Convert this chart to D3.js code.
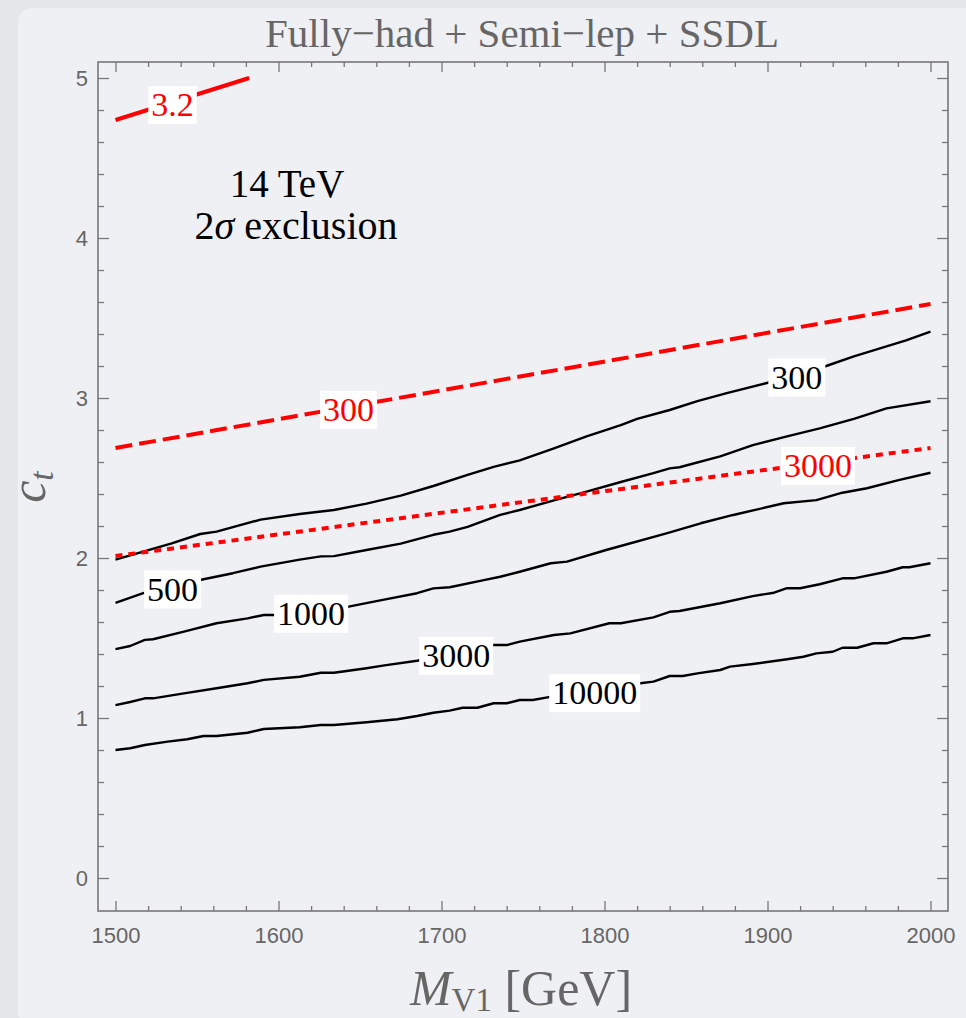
<!DOCTYPE html>
<html>
<head>
<meta charset="utf-8">
<script src="https://cdn.jsdelivr.net/npm/d3@7"></script>
<style>
  html, body { margin: 0; padding: 0; background: #e5e6e9; }
  svg { display: block; }
</style>
</head>
<body>
<svg id="chart" width="966" height="1018"></svg>
<script>
// Contours of required luminosity (fb^-1) in the (M_V1, c_t) plane, 14 TeV, 2 sigma exclusion.
// Each contour is a list of [M_V1 in GeV, c_t] points.

const lum300 = [[1500,1.99],[1517,2.04],[1534,2.09],[1552,2.15],[1562,2.165],[1589,2.24],[1613,2.275],
  [1634,2.30],[1654,2.34],[1675,2.39],[1695,2.45],[1716,2.52],[1732,2.57],[1748,2.61],[1769,2.685],
  [1789,2.76],[1810,2.83],[1820,2.87],[1840,2.925],[1857,2.98],[1875,3.03],[1902,3.10],[1936,3.20],
  [1953,3.26],[1969,3.31],[1985,3.36],[2000,3.415]];

const lum500 = [[1500,1.72],[1517,1.78],[1554,1.867],[1572,1.905],[1589,1.946],[1613,1.99],[1626,2.01],
  [1634,2.012],[1654,2.05],[1675,2.09],[1695,2.145],[1705,2.165],[1716,2.195],[1736,2.27],[1748,2.30],
  [1769,2.36],[1789,2.415],[1810,2.475],[1830,2.53],[1840,2.56],[1846,2.567],[1871,2.635],[1891,2.705],
  [1912,2.76],[1932,2.81],[1953,2.87],[1973,2.935],[2000,2.98]];

const lum1000 = [[1500,1.43],[1509,1.45],[1518,1.488],[1523,1.492],[1542,1.54],[1562,1.592],[1581,1.623],
  [1591,1.644],[1597,1.644],[1643,1.696],[1664,1.738],[1685,1.78],[1695,1.81],[1705,1.817],[1726,1.862],
  [1736,1.883],[1748,1.914],[1767,1.967],[1777,1.977],[1801,2.05],[1838,2.154],[1859,2.217],[1879,2.269],
  [1910,2.342],[1930,2.362],[1946,2.408],[1961,2.436],[1981,2.488],[2000,2.533]];

const lum3000 = [[1500,1.08],[1509,1.10],[1518,1.123],[1523,1.123],[1542,1.154],[1562,1.186],[1581,1.217],
  [1591,1.238],[1613,1.258],[1626,1.283],[1634,1.283],[1654,1.311],[1664,1.327],[1685,1.358],[1732,1.456],
  [1740,1.456],[1748,1.477],[1769,1.519],[1779,1.529],[1803,1.592],[1810,1.592],[1830,1.629],[1840,1.664],
  [1846,1.669],[1871,1.717],[1891,1.762],[1904,1.783],[1912,1.811],[1920,1.811],[1932,1.836],[1946,1.873],
  [1953,1.873],[1973,1.914],[1983,1.942],[1987,1.942],[2000,1.967]];

const lum10000 = [[1500,0.80],[1509,0.811],[1518,0.831],[1532,0.852],[1544,0.867],[1554,0.8875],[1562,0.8875],
  [1581,0.908],[1591,0.931],[1613,0.942],[1626,0.956],[1634,0.956],[1654,0.973],[1673,0.992],[1685,1.0125],
  [1695,1.033],[1705,1.046],[1713,1.064],[1722,1.064],[1732,1.092],[1740,1.092],[1748,1.1125],[1756,1.1125],
  [1765,1.129],[1822,1.217],[1830,1.227],[1840,1.2625],[1848,1.2625],[1857,1.279],[1871,1.30],[1877,1.321],
  [1891,1.3375],[1912,1.367],[1922,1.383],[1930,1.404],[1940,1.414],[1946,1.439],[1955,1.439],[1965,1.467],
  [1973,1.467],[1983,1.498],[1989,1.498],[2000,1.519]];

// Red reference lines: 3.2 fb^-1 (solid), 300 fb^-1 (dashed), 3000 fb^-1 (dotted)
const red32 = [[1500,4.7375],[1582,5.0]];
const red300 = [[1500,2.6875],[2000,3.5875]];
const red3000 = [[1500,2.0125],[2000,2.6875]];

// Contour label texts and the mass at which each sits on its line
const blackLabels = ["300", "500", "1000", "3000", "10000"];
const blackLabelMass = [1918, 1535, 1620, 1709, 1794];
const redLabels = ["3.2", "300", "3000"];
const redLabelMass = [1535, 1643, 1931];

// Axis ticks
const xMajor = [1500, 1600, 1700, 1800, 1900, 2000];
const xMinor = d3.range(1500, 2001, 20).filter(v => !xMajor.includes(v));
const yMajor = [0, 1, 2, 3, 4, 5];
const yMinor = d3.range(-0.2, 5.01, 0.2).map(v => +v.toFixed(1)).filter(v => !yMajor.includes(v) && v > -0.15);

const W = 966, H = 1018;
const frame = {left: 98, right: 948, top: 62, bottom: 911};

const svg = d3.select("#chart");
const serif = "'Liberation Serif', 'Times New Roman', serif";
const sans = "'Liberation Sans', Arial, sans-serif";

// panel background
svg.append("rect").attr("x", 18).attr("y", 8).attr("width", W).attr("height", H)
  .attr("rx", 14).attr("fill", "#eff0f3");

const x = d3.scaleLinear().domain([1500, 2000]).range([115.5, 930.5]);
const y = d3.scaleLinear().domain([0, 5]).range([878, 78]);

// clip region for the curves
svg.append("defs").append("clipPath").attr("id", "plotClip")
  .append("rect").attr("x", frame.left).attr("y", frame.top)
  .attr("width", frame.right - frame.left).attr("height", frame.bottom - frame.top);

const tickColor = "#777";
function styleAxis(g) {
  g.select(".domain").remove();
  g.selectAll(".tick line").attr("stroke", tickColor).attr("stroke-width", 1.3);
  g.selectAll(".tick text").attr("fill", "#666").attr("font-family", sans).attr("font-size", 22);
}

// bottom axis with labels
svg.append("g").attr("transform", `translate(0,${frame.bottom})`)
  .call(d3.axisBottom(x).tickValues(xMajor).tickSizeInner(-10).tickSizeOuter(0).tickPadding(16).tickFormat(d3.format("d")))
  .call(styleAxis);
svg.append("g").attr("transform", `translate(0,${frame.bottom})`)
  .call(d3.axisBottom(x).tickValues(xMinor).tickSizeInner(-5).tickSizeOuter(0).tickFormat(""))
  .call(styleAxis);
// top axis
svg.append("g").attr("transform", `translate(0,${frame.top})`)
  .call(d3.axisTop(x).tickValues(xMajor).tickSizeInner(-10).tickSizeOuter(0).tickFormat(""))
  .call(styleAxis);
svg.append("g").attr("transform", `translate(0,${frame.top})`)
  .call(d3.axisTop(x).tickValues(xMinor).tickSizeInner(-5).tickSizeOuter(0).tickFormat(""))
  .call(styleAxis);
// left axis with labels
svg.append("g").attr("transform", `translate(${frame.left},0)`)
  .call(d3.axisLeft(y).tickValues(yMajor).tickSizeInner(-11).tickSizeOuter(0).tickPadding(10).tickFormat(d3.format("d")))
  .call(styleAxis);
svg.append("g").attr("transform", `translate(${frame.left},0)`)
  .call(d3.axisLeft(y).tickValues(yMinor).tickSizeInner(-6).tickSizeOuter(0).tickFormat(""))
  .call(styleAxis);
// right axis
svg.append("g").attr("transform", `translate(${frame.right},0)`)
  .call(d3.axisRight(y).tickValues(yMajor).tickSizeInner(-11).tickSizeOuter(0).tickFormat(""))
  .call(styleAxis);
svg.append("g").attr("transform", `translate(${frame.right},0)`)
  .call(d3.axisRight(y).tickValues(yMinor).tickSizeInner(-6).tickSizeOuter(0).tickFormat(""))
  .call(styleAxis);

// frame
svg.append("rect").attr("x", frame.left).attr("y", frame.top)
  .attr("width", frame.right - frame.left).attr("height", frame.bottom - frame.top)
  .attr("fill", "none").attr("stroke", tickColor).attr("stroke-width", 1.6);

const line = d3.line().x(d => x(d[0])).y(d => y(d[1]));
const plot = svg.append("g").attr("clip-path", "url(#plotClip)");

const blackSeries = [lum300, lum500, lum1000, lum3000, lum10000];
blackSeries.forEach(s => {
  plot.append("path").datum(s).attr("d", line)
    .attr("fill", "none").attr("stroke", "#000").attr("stroke-width", 2.4)
    .attr("stroke-linejoin", "round");
});

const redSeries = [red32, red300, red3000];
const redDash = [null, "17,7", "7,6"];
redSeries.forEach((s, i) => {
  const p = plot.append("path").datum(s).attr("d", line)
    .attr("fill", "none").attr("stroke", "#ff0000").attr("stroke-width", 4);
  if (redDash[i]) p.attr("stroke-dasharray", redDash[i]);
});

// value of a polyline at a given mass
function valueAt(s, m) {
  for (let i = 0; i < s.length - 1; i++) {
    const a = s[i], b = s[i + 1];
    if (m >= a[0] && m <= b[0]) return a[1] + (b[1] - a[1]) * (m - a[0]) / (b[0] - a[0]);
  }
  return s[s.length - 1][1];
}

function contourLabel(s, m, text, color) {
  const cx = x(m), cy = y(valueAt(s, m)) + 3;
  const g = svg.append("g");
  const box = g.append("rect").attr("fill", "#fff");
  const t = g.append("text").attr("x", cx).attr("y", cy).attr("dy", "0.33em")
    .attr("text-anchor", "middle").attr("font-family", serif).attr("font-size", 34)
    .attr("fill", color).text(text);
  const bb = t.node().getBBox();
  box.attr("x", bb.x - 3).attr("y", cy - 19).attr("width", bb.width + 6).attr("height", 38);
}

blackSeries.forEach((s, i) => contourLabel(s, blackLabelMass[i], blackLabels[i], "#000"));
redSeries.forEach((s, i) => contourLabel(s, redLabelMass[i], redLabels[i], "#ff0000"));

// annotation
svg.append("text").attr("x", 287).attr("y", 197).attr("text-anchor", "middle")
  .attr("font-family", serif).attr("font-size", 39).attr("fill", "#000").text("14 TeV");
const ann = svg.append("text").attr("x", 296).attr("y", 239).attr("text-anchor", "middle")
  .attr("font-family", serif).attr("font-size", 40).attr("fill", "#000");
ann.append("tspan").text("2");
ann.append("tspan").attr("font-style", "italic").text("σ");
ann.append("tspan").text(" exclusion");

// title
svg.append("text").attr("x", 522).attr("y", 47).attr("text-anchor", "middle")
  .attr("font-family", serif).attr("font-size", 41).attr("fill", "#666")
  .text("Fully\u2212had + Semi\u2212lep + SSDL");

// x axis title
const xt = svg.append("text").attr("x", 521).attr("y", 1005).attr("text-anchor", "middle")
  .attr("font-family", serif).attr("font-size", 50).attr("fill", "#666");
xt.append("tspan").attr("font-style", "italic").text("M");
xt.append("tspan").attr("font-size", 33).attr("dy", 6).text("V1");
xt.append("tspan").attr("dy", -6).text(" [GeV]");

// y axis title
const yt = svg.append("text").attr("transform", "translate(45,487) rotate(-90)")
  .attr("text-anchor", "middle").attr("font-family", serif).attr("font-size", 50)
  .attr("fill", "#666").attr("font-style", "italic");
yt.append("tspan").text("c");
yt.append("tspan").attr("font-size", 34).attr("dy", 8).text("t");
</script>
</body>
</html>
